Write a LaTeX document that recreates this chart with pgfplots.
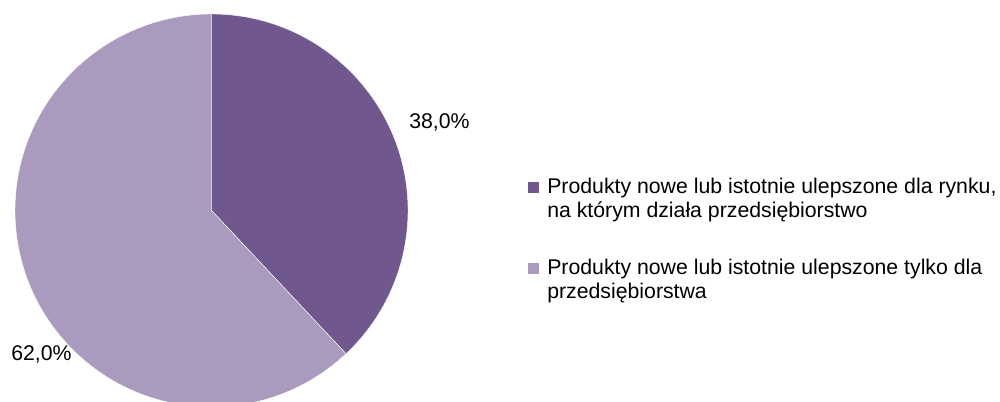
\documentclass[border=0pt]{standalone}
\usepackage{fontspec}
\setmainfont{Liberation Sans}
\usepackage{pgfplots}
\usepackage{pgfplotstable}
\pgfplotsset{compat=1.18}
\definecolor{darkpurple}{RGB}{112,88,143}
\definecolor{lightpurple}{RGB}{169,154,190}
\pgfplotstableread{
label value
rynek 38.0
firma 62.0
}\piedata
\newcommand{\lblfont}{\fontsize{15.95}{18}\selectfont}
\begin{document}
\begin{tikzpicture}
\pgfplotstablegetelem{0}{value}\of\piedata \let\va\pgfplotsretval
\pgfplotstablegetelem{1}{value}\of\piedata \let\vb\pgfplotsretval
\pgfmathsetmacro\angA{90-3.6*\va}
\pgfmathsetmacro\angB{\angA-3.6*\vb}
\def\R{147.375pt}
\begin{axis}[
  scale only axis, width=750pt, height=301.5pt,
  xmin=0, xmax=1000, ymin=0, ymax=402,
  hide axis, clip=true,
]
\addplot[draw=none] coordinates {(0,0) (1000,402)};
\fill[darkpurple, draw=white, line width=0.3pt] (axis cs:211.5,191.5) -- ++(90:\R) arc[start angle=90, end angle=\angA, radius=\R] -- cycle;
\fill[lightpurple, draw=white, line width=0.3pt] (axis cs:211.5,191.5) -- ++(\angA:\R) arc[start angle=\angA, end angle=\angB, radius=\R] -- cycle;
\node[anchor=base west, inner sep=0pt, font=\lblfont] at (axis cs:409,273) {38,0\%};
\node[anchor=base west, inner sep=0pt, font=\lblfont] at (axis cs:11,41) {62,0\%};
% legend
\fill[darkpurple] (axis cs:527.5,208.5) rectangle (axis cs:539,219.5);
\fill[lightpurple] (axis cs:527.5,127.5) rectangle (axis cs:539,138.5);
\node[anchor=base west, inner sep=0pt, font=\lblfont] at (axis cs:547,208) {Produkty nowe lub istotnie ulepszone dla rynku,};
\node[anchor=base west, inner sep=0pt, font=\lblfont] at (axis cs:547,184) {na którym działa przedsiębiorstwo};
\node[anchor=base west, inner sep=0pt, font=\lblfont] at (axis cs:547,127) {Produkty nowe lub istotnie ulepszone tylko dla};
\node[anchor=base west, inner sep=0pt, font=\lblfont] at (axis cs:547,103) {przedsiębiorstwa};
\end{axis}
\end{tikzpicture}
\end{document}
